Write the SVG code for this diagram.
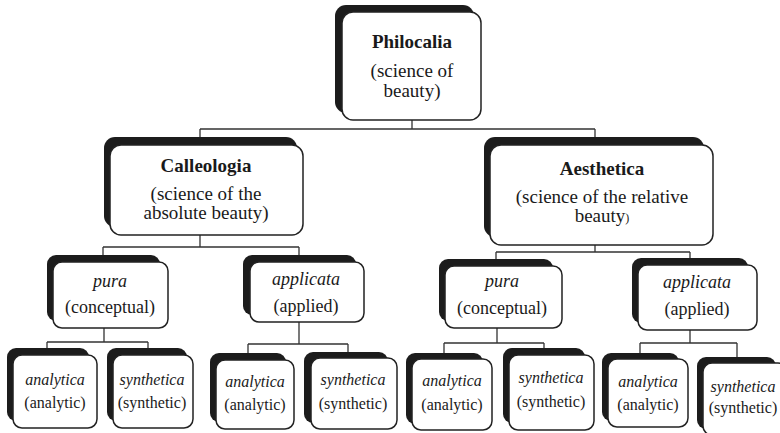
<svg xmlns="http://www.w3.org/2000/svg" width="780" height="433" viewBox="0 0 780 433">
<style>
  .sh{fill:#1c1c1c}
  .bx{fill:#fff;stroke:#222;stroke-width:1.5}
  .ln{fill:none;stroke:#333;stroke-width:1.3}
  text{fill:#1a1a1a;text-anchor:middle}
  .t1{font-size:19px}
  .b{font-weight:bold}
  .t2{font-size:18px}
  .t3{font-size:16px}
  .i{font-style:italic}
</style>
<rect width="780" height="433" fill="#fff"/>
<g id="connectors" class="ln">
  <path d="M412 120V129M200 129H595M200 129V137M595 129V137"/>
  <path d="M200 235V247M103 247H299M103 247V255M299 247V255"/>
  <path d="M595 245V252M496 252H690M496 252V259M690 252V259"/>
  <path d="M104 328V342M47 342H148M47 342V348M148 342V348"/>
  <path d="M299 322V344M248 344H348M248 344V353M348 344V352"/>
  <path d="M497 328V343M444 343H544M444 343V353M544 343V348"/>
  <path d="M690 330V343M640 343H737M640 343V353M737 343V357"/>
</g>
<g font-family="Liberation Serif, Times New Roman, DejaVu Serif, serif">
<g id="philocalia">
  <rect class="sh" x="335" y="5" width="139" height="108" rx="11"/>
  <rect class="bx" x="342" y="12" width="139" height="108" rx="11"/>
  <text class="t1 b" x="412" y="48">Philocalia</text>
  <text class="t1" x="412" y="77">(science of</text>
  <text class="t1" x="412" y="97">beauty)</text>
</g>
<g id="calleologia">
  <rect class="sh" x="104" y="137" width="193" height="90" rx="11"/>
  <rect class="bx" x="110" y="145" width="193" height="90" rx="11"/>
  <text class="t1 b" x="206" y="172">Calleologia</text>
  <text class="t1" x="206" y="200">(science of the</text>
  <text class="t1" x="206" y="219">absolute beauty)</text>
</g>
<g id="aesthetica">
  <rect class="sh" x="484" y="137" width="220" height="100" rx="11"/>
  <rect class="bx" x="490" y="145" width="223" height="100" rx="11"/>
  <text class="t1 b" x="602" y="175">Aesthetica</text>
  <text class="t1" x="602" y="203">(science of the relative</text>
  <text class="t1" x="602" y="222">beauty<tspan font-size="12">)</tspan></text>
</g>
<g id="pura-left">
  <rect class="sh" x="47" y="255" width="113" height="66" rx="9"/>
  <rect class="bx" x="53" y="262" width="115" height="66" rx="9"/>
  <text class="t2 i" x="110" y="287">pura</text>
  <text class="t2" x="110" y="313">(conceptual)</text>
</g>
<g id="applicata-left">
  <rect class="sh" x="243" y="255" width="113" height="60" rx="9"/>
  <rect class="bx" x="250" y="262" width="114" height="60" rx="9"/>
  <text class="t2 i" x="306" y="285">applicata</text>
  <text class="t2" x="306" y="312">(applied)</text>
</g>
<g id="pura-right">
  <rect class="sh" x="439" y="259" width="114" height="62" rx="9"/>
  <rect class="bx" x="445" y="266" width="117" height="62" rx="9"/>
  <text class="t2 i" x="502" y="287">pura</text>
  <text class="t2" x="502" y="314">(conceptual)</text>
</g>
<g id="applicata-right">
  <rect class="sh" x="632" y="258" width="116" height="65" rx="9"/>
  <rect class="bx" x="638" y="265" width="119" height="65" rx="9"/>
  <text class="t2 i" x="697" y="288">applicata</text>
  <text class="t2" x="697" y="315">(applied)</text>
</g>
<g id="analytica-1">
  <rect class="sh" x="7" y="348" width="82" height="73" rx="9"/>
  <rect class="bx" x="13" y="355" width="84" height="73" rx="9"/>
  <text class="t3 i" x="55" y="385">analytica</text>
  <text class="t3" x="55" y="408">(analytic)</text>
</g>
<g id="synthetica-1">
  <rect class="sh" x="107" y="348" width="80" height="73" rx="9"/>
  <rect class="bx" x="113" y="355" width="80" height="73" rx="9"/>
  <text class="t3 i" x="152" y="385">synthetica</text>
  <text class="t3" x="152" y="408">(synthetic)</text>
</g>
<g id="analytica-2">
  <rect class="sh" x="210" y="353" width="76" height="69" rx="9"/>
  <rect class="bx" x="216" y="360" width="78" height="69" rx="9"/>
  <text class="t3 i" x="255" y="387">analytica</text>
  <text class="t3" x="255" y="410">(analytic)</text>
</g>
<g id="synthetica-2">
  <rect class="sh" x="304" y="352" width="84" height="71" rx="9"/>
  <rect class="bx" x="311" y="358" width="86" height="71" rx="9"/>
  <text class="t3 i" x="353" y="385">synthetica</text>
  <text class="t3" x="353" y="409">(synthetic)</text>
</g>
<g id="analytica-3">
  <rect class="sh" x="406" y="353" width="77" height="71" rx="9"/>
  <rect class="bx" x="412" y="359" width="80" height="71" rx="9"/>
  <text class="t3 i" x="452" y="386">analytica</text>
  <text class="t3" x="452" y="410">(analytic)</text>
</g>
<g id="synthetica-3">
  <rect class="sh" x="503" y="348" width="82" height="75" rx="9"/>
  <rect class="bx" x="509" y="355" width="85" height="75" rx="9"/>
  <text class="t3 i" x="551" y="383">synthetica</text>
  <text class="t3" x="551" y="407">(synthetic)</text>
</g>
<g id="analytica-4">
  <rect class="sh" x="602" y="353" width="77" height="68" rx="9"/>
  <rect class="bx" x="608" y="359" width="80" height="68" rx="9"/>
  <text class="t3 i" x="648" y="387">analytica</text>
  <text class="t3" x="648" y="410">(analytic)</text>
</g>
<g id="synthetica-4">
  <rect class="sh" x="697" y="357" width="79" height="72" rx="9"/>
  <rect class="bx" x="703" y="363" width="84" height="72" rx="9"/>
  <text class="t3 i" x="743" y="392">synthetica</text>
  <text class="t3" x="743" y="413">(synthetic)</text>
</g>
</g>
</svg>
